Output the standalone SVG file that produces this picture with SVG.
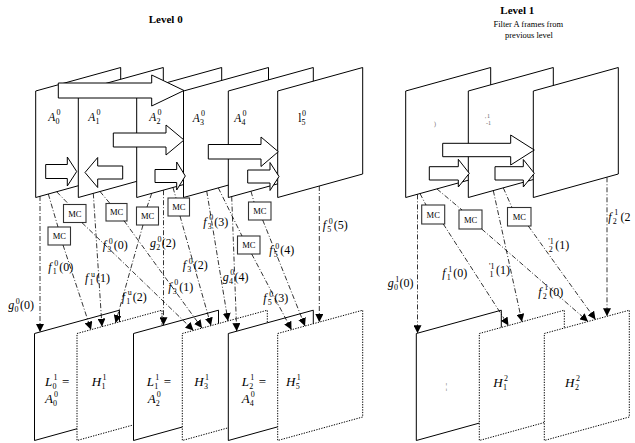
<svg xmlns="http://www.w3.org/2000/svg" width="635" height="443" viewBox="0 0 635 443">
<defs>
<style>
text{font-family:"Liberation Serif","Times New Roman",serif;fill:#000}
.fr{fill:#fff;stroke:#000;stroke-width:1}
.fd{fill:#fff;stroke:#000;stroke-width:1;stroke-dasharray:1.3 1.3}
.ba{fill:#fff;stroke:#000;stroke-width:1}
.cn{fill:none;stroke:#000;stroke-width:0.8;stroke-dasharray:5 2 1 2}
.mc rect{fill:#fff;stroke:#333;stroke-width:1.1}
.mc text{font-size:8.5px;text-anchor:middle}
.lb{font-size:12px}
.fl{font-size:11.5px}
.ll{font-size:13px}
.sm{font-size:8px}
.it{font-style:italic}
.ttl{font-size:11px;font-weight:bold;text-anchor:middle}
.sub{font-size:8.5px;text-anchor:middle}
.gl{fill:#666}
</style>
<marker id="ah" viewBox="0 0 10 10" refX="10" refY="5" markerWidth="8" markerHeight="8" markerUnits="userSpaceOnUse" orient="auto"><path d="M0,0 L10,5 L0,10 z" fill="#000"/></marker>
</defs>
<rect width="635" height="443" fill="#fff"/>

<g id="titles">
<text class="ttl" x="165.7" y="23">Level 0</text>
<text class="ttl" x="517.3" y="14">Level 1</text>
<text class="sub" x="528.3" y="27">Filter A frames from</text>
<text class="sub" x="529" y="38">previous level</text>
</g>

<g id="level0-frames">
<g id="A0"><polygon class="fr" points="35.7,91 120.7,67.5 120.7,174 35.7,197.5"/></g>
<g id="A1"><polygon class="fr" points="78.3,91 163.3,67.5 163.3,174 78.3,197.5"/></g>
<g id="A2"><polygon class="fr" points="136.7,91 221.7,67.5 221.7,174 136.7,197.5"/></g>
<g id="A3"><polygon class="fr" points="183.5,91 268.5,67.5 268.5,174 183.5,197.5"/></g>
<g id="A4"><polygon class="fr" points="228.3,91 313.3,67.5 313.3,174 228.3,197.5"/></g>
<g id="A5"><polygon class="fr" points="277.7,91 362.7,67.5 362.7,174 277.7,197.5"/></g>
</g>
<g id="level0-labels">
<text class="fl"><tspan class="it" x="48.3" y="121">A</tspan><tspan class="sm" x="55.5" y="124">0</tspan><tspan class="sm" x="56.5" y="115">0</tspan></text>
<text class="fl"><tspan class="it" x="88.3" y="121">A</tspan><tspan class="sm" x="95.5" y="124">1</tspan><tspan class="sm" x="96.5" y="115">0</tspan></text>
<text class="fl"><tspan class="it" x="149.3" y="121">A</tspan><tspan class="sm" x="156.5" y="124">2</tspan><tspan class="sm" x="157.5" y="115">0</tspan></text>
<text class="fl"><tspan class="it" x="192.7" y="122">A</tspan><tspan class="sm" x="199.9" y="125">3</tspan><tspan class="sm" x="200.9" y="116">0</tspan></text>
<text class="fl"><tspan class="it" x="234.3" y="122">A</tspan><tspan class="sm" x="241.5" y="125">4</tspan><tspan class="sm" x="242.5" y="116">0</tspan></text>
<text class="fl"><tspan x="298.3" y="122">l</tspan><tspan class="sm" x="301.5" y="125">5</tspan><tspan class="sm" x="302" y="116">0</tspan></text>
</g>
<g id="level0-block-arrows">
<polygon class="ba" points="58.3,83 151.7,83 151.7,75 184,90.5 151.7,106 151.7,98 58.3,98"/>
<polygon class="ba" points="113.3,133 166,133 166,125 184,140 166,155 166,147 113.3,147"/>
<polygon class="ba" points="45.7,164.5 67.3,164.5 67.3,157 76.7,171.5 67.3,186 67.3,178.5 45.7,178.5"/>
<polygon class="ba" points="122.7,166 97.7,166 97.7,157.5 85,172.5 97.7,187.5 97.7,179 122.7,179"/>
<polygon class="ba" points="155,169.5 176.7,169.5 176.7,162 185.3,176 176.7,190 176.7,182.5 155,182.5"/>
<polygon class="ba" points="208.3,144.5 261,144.5 261,137 278.3,151.7 261,166.5 261,159 208.3,159"/>
<polygon class="ba" points="247.7,170 270,170 270,162.5 279,176.5 270,190.5 270,183 247.7,183"/>
</g>

<g id="level1-frames">
<g id="F1"><polygon class="fr" points="405.7,91 490.7,67.5 490.7,174 405.7,197.5"/></g>
<g id="F2"><polygon class="fr" points="468.3,91 553.3,67.5 553.3,174 468.3,197.5"/></g>
<g id="F3"><polygon class="fr" points="533.3,91 618.3,67.5 618.3,174 533.3,197.5"/></g>
<text class="gl" x="434" y="126" font-size="6">)</text>
<text class="gl" font-size="6"><tspan x="485" y="121">'</tspan><tspan x="487" y="118">1</tspan><tspan x="486" y="125">-1</tspan></text>
</g>
<g id="level1-block-arrows">
<polygon class="ba" points="442.7,143.3 510.7,143.3 510.7,135 534.3,150 510.7,165 510.7,156.7 442.7,156.7"/>
<polygon class="ba" points="429.3,166.7 458.3,166.7 458.3,159.3 469.3,173.3 458.3,187 458.3,180 429.3,180"/>
<polygon class="ba" points="495,166.7 523.3,166.7 523.3,159.5 534.3,173.3 523.3,187 523.3,180 495,180"/>
</g>

<g id="lower-frames">
<g id="L0"><polygon class="fr" points="34.5,333.5 119.5,310.2 119.5,417 34.5,440.5"/></g>
<g id="H1"><polygon class="fd" points="77,333.5 162,310.2 162,417 77,440.5"/></g>
<g id="L1"><polygon class="fr" points="133.5,333.5 218.5,310.2 218.5,417 133.5,440.5"/></g>
<g id="H3"><polygon class="fd" points="182.3,333.5 267.3,310.2 267.3,417 182.3,440.5"/></g>
<g id="L2"><polygon class="fr" points="228.3,333.5 313.3,310.2 313.3,417 228.3,440.5"/></g>
<g id="H5"><polygon class="fd" points="277.7,333.5 362.7,310.2 362.7,417 277.7,440.5"/></g>
<g id="LL"><polygon class="fr" points="416.3,333.5 501.3,310.2 501.3,417 416.3,440.5"/></g>
<g id="H12"><polygon class="fd" points="479.3,333.5 564.3,310.2 564.3,417 479.3,440.5"/></g>
<g id="H22"><polygon class="fd" points="544.3,333.5 629.3,310.2 629.3,417 544.3,440.5"/></g>
</g>
<g id="lower-labels" class="ll">
<text><tspan class="it" x="45" y="386">L</tspan><tspan class="sm" x="52.5" y="389">0</tspan><tspan class="sm" x="53.5" y="380">1</tspan><tspan x="62" y="386">=</tspan></text>
<text><tspan class="it" x="45" y="403">A</tspan><tspan class="sm" x="53" y="406">0</tspan><tspan class="sm" x="54" y="397">0</tspan></text>
<text><tspan class="it" x="91.7" y="386">H</tspan><tspan class="sm" x="101.5" y="389">1</tspan><tspan class="sm" x="102.5" y="380">1</tspan></text>
<text><tspan class="it" x="146.7" y="386">L</tspan><tspan class="sm" x="154.2" y="389">1</tspan><tspan class="sm" x="155.2" y="380">1</tspan><tspan x="163.7" y="386">=</tspan></text>
<text><tspan class="it" x="147.7" y="403">A</tspan><tspan class="sm" x="155.7" y="406">2</tspan><tspan class="sm" x="156.7" y="397">0</tspan></text>
<text><tspan class="it" x="194.3" y="386">H</tspan><tspan class="sm" x="204.1" y="389">3</tspan><tspan class="sm" x="205.1" y="380">1</tspan></text>
<text><tspan class="it" x="241.7" y="386">L</tspan><tspan class="sm" x="249.2" y="389">2</tspan><tspan class="sm" x="250.2" y="380">1</tspan><tspan x="258.7" y="386">=</tspan></text>
<text><tspan class="it" x="241.7" y="403">A</tspan><tspan class="sm" x="249.7" y="406">4</tspan><tspan class="sm" x="250.7" y="397">0</tspan></text>
<text><tspan class="it" x="286" y="386">H</tspan><tspan class="sm" x="295.8" y="389">5</tspan><tspan class="sm" x="296.8" y="380">1</tspan></text>
<text class="gl" x="445.5" y="389" font-size="9">¦</text>
<text><tspan class="it" x="493.3" y="387">H</tspan><tspan class="sm" x="503.1" y="390">1</tspan><tspan class="sm" x="504.1" y="381">2</tspan></text>
<text><tspan class="it" x="565" y="387">H</tspan><tspan class="sm" x="575" y="390">2</tspan><tspan class="sm" x="576" y="381">2</tspan></text>
</g>

<g id="mc-boxes">
<g id="MC1" class="mc"><rect x="63.5" y="204.5" width="22.5" height="18"/><text x="74.75" y="216.5">MC</text></g>
<g id="MC2" class="mc"><rect x="48" y="227" width="22.5" height="18"/><text x="59.25" y="239">MC</text></g>
<g id="MC3" class="mc"><rect x="106" y="203.5" width="21" height="17.5"/><text x="116.5" y="215.3">MC</text></g>
<g id="MC4" class="mc"><rect x="136.5" y="207" width="22" height="18"/><text x="147.5" y="219">MC</text></g>
<g id="MC5" class="mc"><rect x="168" y="198" width="21.5" height="18"/><text x="178.75" y="210">MC</text></g>
<g id="MC6" class="mc"><rect x="248.5" y="202" width="22.5" height="18"/><text x="259.75" y="214">MC</text></g>
<g id="MC7" class="mc"><rect x="237.5" y="236" width="22.5" height="18"/><text x="248.75" y="248">MC</text></g>
<g id="MC1b" class="mc"><rect x="421.7" y="205" width="23" height="19"/><text x="433.2" y="217.5">MC</text></g>
<g id="MC2b" class="mc"><rect x="459" y="210" width="23" height="19"/><text x="470.5" y="222.5">MC</text></g>
<g id="MC3b" class="mc"><rect x="507.5" y="207.5" width="23.5" height="18.5"/><text x="519.25" y="219.8">MC</text></g>
</g>

<g id="connectors">
<path class="cn" d="M48.3,194 L58,227"/>
<path class="cn" d="M56.7,191.8 L69,204.5"/>
<path class="cn" d="M100,191.5 L110,203.5"/>
<path class="cn" d="M151.7,193.4 L147,207"/>
<path class="cn" d="M173,187.6 L176,198"/>
<path class="cn" d="M218.3,187.9 L242,236"/>
<path class="cn" d="M251,191.3 L254,202"/>
<path class="cn" d="M420,193.6 L426,205"/>
<path class="cn" d="M437,189 L462,210"/>
<path class="cn" d="M503.3,187.9 L512,207.5"/>
<g marker-end="url(#ah)">
<path class="cn" d="M40,196 L40,332"/>
<path class="cn" d="M63,245 L91,329.7"/>
<path class="cn" d="M93.3,193.4 L102,326.6"/>
<path class="cn" d="M82,222.7 L193.5,330.4"/>
<path class="cn" d="M124,220.7 L202,328.1"/>
<path class="cn" d="M143,225 L115.5,323"/>
<path class="cn" d="M163.5,190.2 L163.5,325.3"/>
<path class="cn" d="M180,216 L211,325.6"/>
<path class="cn" d="M206.7,191 L228,321"/>
<path class="cn" d="M231.7,196.6 L236.7,331.2"/>
<path class="cn" d="M251.7,254 L291.5,329.7"/>
<path class="cn" d="M262.7,220 L305,326"/>
<path class="cn" d="M319.3,186 L319.3,322.1"/>
<path class="cn" d="M417.5,194.4 L417.5,333.2"/>
<path class="cn" d="M443.3,224 L508.5,325.5"/>
<path class="cn" d="M493.3,190.6 L522,321.8"/>
<path class="cn" d="M481.7,229 L588,321.5"/>
<path class="cn" d="M528.3,226 L595.5,319.5"/>
<path class="cn" d="M607,177.3 L607,316.3"/>
</g>
</g>

<g id="connector-labels" class="lb">
<text><tspan class="it" x="8.3" y="309">g</tspan><tspan class="sm" x="14.5" y="312">0</tspan><tspan class="sm" x="15.8" y="303.5">0</tspan><tspan x="20" y="309">(0)</tspan></text>
<text><tspan class="it" x="48.3" y="271">f</tspan><tspan class="sm" x="52.8" y="274">1</tspan><tspan class="sm" x="54.3" y="265.5">0</tspan><tspan x="59.3" y="271">(0)</tspan></text>
<text><tspan class="it" x="85" y="282.3">f</tspan><tspan class="sm" x="89.5" y="285.3">1</tspan><tspan class="sm" x="91" y="276.8">u</tspan><tspan x="96" y="282.3">(1)</tspan></text>
<text><tspan class="it" x="121.7" y="300.7">f</tspan><tspan class="sm" x="126.2" y="303.7">1</tspan><tspan class="sm" x="127.7" y="295.2">u</tspan><tspan x="132.7" y="300.7">(2)</tspan></text>
<text><tspan class="it" x="102.7" y="249">f</tspan><tspan class="sm" x="107.2" y="252">3</tspan><tspan class="sm" x="108.7" y="243.5">0</tspan><tspan x="113.7" y="249">(0)</tspan></text>
<text><tspan class="it" x="150" y="247.3">g</tspan><tspan class="sm" x="156.2" y="250.3">2</tspan><tspan class="sm" x="157.5" y="241.8">0</tspan><tspan x="161.7" y="247.3">(2)</tspan></text>
<text><tspan class="it" x="168.3" y="290.7">f</tspan><tspan class="sm" x="172.8" y="293.7">3</tspan><tspan class="sm" x="174.3" y="285.2">0</tspan><tspan x="179.3" y="290.7">(1)</tspan></text>
<text><tspan class="it" x="182.7" y="269">f</tspan><tspan class="sm" x="187.2" y="272">3</tspan><tspan class="sm" x="188.7" y="263.5">0</tspan><tspan x="193.7" y="269">(2)</tspan></text>
<text><tspan class="it" x="203.3" y="225.7">f</tspan><tspan class="sm" x="207.8" y="228.7">3</tspan><tspan class="sm" x="209.3" y="220.2">0</tspan><tspan x="214.3" y="225.7">(3)</tspan></text>
<text><tspan class="it" x="222.7" y="280.7">g</tspan><tspan class="sm" x="228.9" y="283.7">4</tspan><tspan class="sm" x="230.2" y="275.2">0</tspan><tspan x="234.4" y="280.7">(4)</tspan></text>
<text><tspan class="it" x="269.3" y="254">f</tspan><tspan class="sm" x="273.8" y="257">5</tspan><tspan class="sm" x="275.3" y="248.5">0</tspan><tspan x="280.3" y="254">(4)</tspan></text>
<text><tspan class="it" x="263.3" y="302.3">f</tspan><tspan class="sm" x="267.8" y="305.3">5</tspan><tspan class="sm" x="269.3" y="296.8">0</tspan><tspan x="274.3" y="302.3">(3)</tspan></text>
<text><tspan class="it" x="322.7" y="229">f</tspan><tspan class="sm" x="327.2" y="232">5</tspan><tspan class="sm" x="328.7" y="223.5">0</tspan><tspan x="333.7" y="229">(5)</tspan></text>
<text><tspan class="it" x="387.7" y="287">g</tspan><tspan class="sm" x="393.9" y="290">0</tspan><tspan class="sm" x="395.2" y="281.5">1</tspan><tspan x="399.4" y="287">(0)</tspan></text>
<text><tspan class="it" x="442.3" y="277">f</tspan><tspan class="sm" x="446.8" y="280">1</tspan><tspan class="sm" x="448.3" y="271.5">1</tspan><tspan x="453.3" y="277">(0)</tspan></text>
<text><tspan class="sm" x="489" y="268.5">'1</tspan><tspan class="sm" x="489.5" y="277">1</tspan><tspan x="496" y="274">(1)</tspan></text>
<text><tspan class="sm" x="548.3" y="243.5">'1</tspan><tspan class="sm" x="548.8" y="252">2</tspan><tspan x="555.3" y="249">(1)</tspan></text>
<text><tspan class="it" x="538.3" y="295.5">f</tspan><tspan class="sm" x="542.8" y="298.5">2</tspan><tspan class="sm" x="544.3" y="290">1</tspan><tspan x="549.3" y="295.5">(0)</tspan></text>
<text><tspan class="it" x="608.3" y="220.5">f</tspan><tspan class="sm" x="612.8" y="223.5">2</tspan><tspan class="sm" x="614.3" y="215">1</tspan><tspan x="620.5" y="220.5">(2</tspan></text>
</g>
</svg>
